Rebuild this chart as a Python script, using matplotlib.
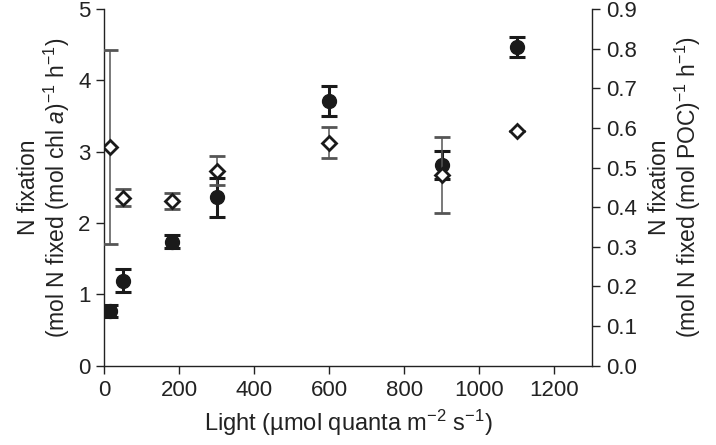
import matplotlib
matplotlib.use("Agg")
import matplotlib.pyplot as plt

plt.rcParams['font.family'] = ['Liberation Sans', 'DejaVu Sans']
plt.rcParams['mathtext.fontset'] = 'custom'
plt.rcParams['mathtext.rm'] = 'Liberation Sans'
plt.rcParams['mathtext.it'] = 'Liberation Sans:italic'
plt.rcParams['mathtext.default'] = 'regular'

# Data
light = [15, 50, 180, 300, 600, 900, 1100]
chl_rate = [0.77, 1.19, 1.74, 2.36, 3.71, 2.81, 4.46]      # left axis, filled circles
chl_err = [0.08, 0.16, 0.09, 0.27, 0.21, 0.20, 0.14]
poc_rate = [0.552, 0.424, 0.416, 0.492, 0.563, 0.481, 0.593]  # right axis, open diamonds
poc_err = [0.244, 0.022, 0.021, 0.036, 0.040, 0.096, 0.0]

xticks = [0, 200, 400, 600, 800, 1000, 1200]
yticks_left = [0, 1, 2, 3, 4, 5]
yticks_right = [0.0, 0.1, 0.2, 0.3, 0.4, 0.5, 0.6, 0.7, 0.8, 0.9]

fig = plt.figure(figsize=(7.16, 4.45), dpi=100)
ax = fig.add_axes([0.1457, 0.178, 0.6808, 0.802])
ax2 = ax.twinx()

ax.errorbar(light, chl_rate, yerr=chl_err, fmt='o', color='#1a1a1a', ms=10,
            elinewidth=2.2, capsize=6, capthick=2.2, zorder=3)
ax2.errorbar(light, poc_rate, yerr=poc_err, fmt='D', mfc='white', mec='#1a1a1a',
             mew=2.0, ms=7.5, ecolor='#555555', elinewidth=1.1, capsize=6,
             capthick=1.1, zorder=3)

ax.set_xlim(0, 1300)
ax.set_ylim(0, 5)
ax2.set_ylim(0, 0.9)
ax.set_xticks(xticks)
ax.set_yticks(yticks_left)
ax2.set_yticks(yticks_right)
ax2.set_yticklabels([f"{v:.1f}" for v in yticks_right])

for a in (ax, ax2):
    a.spines['top'].set_visible(False)
    for s in a.spines.values():
        s.set_linewidth(1.0)
        s.set_color('#222222')
    a.tick_params(direction='out', length=6, width=1.0, colors='#222222',
                  labelsize=16, labelcolor='#222222', pad=4)
ax.spines['right'].set_visible(False)
ax2.spines['left'].set_visible(False)
ax2.spines['bottom'].set_visible(False)

ax.set_xlabel("Light (µmol quanta m$^{−2}$ s$^{−1}$)", fontsize=17, color='#222222', labelpad=5)
ax.set_ylabel("N fixation\n(mol N fixed (mol chl $\\mathit{a}$)$^{−1}$ h$^{−1}$)",
              fontsize=16.5, color='#222222', linespacing=1.1, labelpad=4)
ax2.set_ylabel("N fixation\n(mol N fixed (mol POC)$^{−1}$ h$^{−1}$)",
               fontsize=16.5, color='#222222', linespacing=1.1, labelpad=8)

fig.savefig("out.png", dpi=100)
